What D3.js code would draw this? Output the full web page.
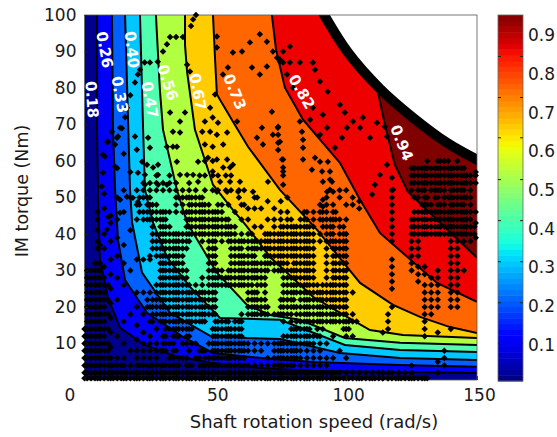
<!DOCTYPE html>
<html>
<head>
<meta charset="utf-8">
<script src="https://d3js.org/d3.v7.min.js"></script>
<style>
html,body{margin:0;padding:0;background:#fff}
text{font-family:"DejaVu Sans";fill:#1a1a1a}
</style>
</head>
<body>
<svg id="chart" width="557" height="437"></svg>
<script>
// band colours, lowest efficiency first
var bandColors = ["#00008f","#0000f5","#0060ff","#00c8ff","#50ffb0","#b0ff40","#ffcc00","#ff6600","#ee0000","#800000"];

// contour lines, one per band edge (speed in rad/s, torque in Nm)
var levelSpeeds = [
	[4.8,4.8,5.2,5.9,9,13.6,23.1,34.6,48,67.1,87.3,120.6,150],
	[10.5,10.9,11.7,12.8,15.5,23.9,37.6,49.1,70.9,87.3,120.6,150],
	[15.5,16.2,17.4,18.2,22,32.7,48,62.1,74.7,97.6,120.6,150],
	[21.2,22.4,23.1,26.2,31.5,40.3,51.8,74.7,99.5,120.6,150],
	[27.3,28.8,30,35.3,39.2,50.6,62.1,70.9,82.3,99.5,120.6,150],
	[38.4,38.4,39.2,42.2,49.1,56.7,62.1,70.9,87.3,100.3,109.1,121.7,150],
	[49.1,49.9,50.6,56.7,62.5,74.7,88.8,100.3,105.3,117.9,128.2,139.7,150],
	[71.6,73.2,76.6,83.5,97.6,105.3,112.9,134.7,150],
	[112.2,114.8,118.6,123.6,134.7,150]
];
var levelTorques = [
	[100,68.6,49.4,32.9,22.5,14.3,9.6,6.6,4.7,3.3,2.5,2.2,1.9],
	[100,68.6,52.1,38.4,27.4,18.4,11.8,7.4,5.8,4.9,4.1,3.6],
	[100,82.3,52.1,43.1,29.4,18.4,12.1,11.5,11.2,7.4,6,5.5],
	[100,68.6,52.1,43.1,33.7,25.5,17,16.5,9.6,8.2,7.7],
	[100,79.6,68.6,52.1,43.1,29.4,20.6,17.8,16.5,11.5,10.2,9.6],
	[100,91.9,84.5,68.6,53.5,46.6,42,33.7,22.8,17.3,13.7,12.3,11.5],
	[100,87.8,78.2,70.8,63.9,52.1,41.2,31,26.6,20.6,17.3,14.5,12.9],
	[100,90.5,80.1,71.3,59.5,49.4,40.3,26.6,21.4],
	[78.7,70,59,51.6,43.9,33.5]
];

// torque limit of the machine
var limitSpeed = [90,100.7,112.9,125.5,138.5,152];
var limitTorque = [102,89.7,79.8,71.9,65,59.6];

// contour labels
var labelText = ["0.18","0.26","0.33","0.40","0.47","0.56","0.67","0.73","0.82","0.94"];
var labelSpeed = [2.9,7.8,13.6,18.2,25,31.9,43.4,57.5,83.1,121.3];
var labelTorque = [76.8,90.5,78.2,90.5,76.8,81.5,79,79,79,65];
var labelAngle = [86,80,80,84,80,72,80,68,60,68];

// operating points grouped by speed column: [speed, torques]
var pointColumns = [
	[0,[.5,2,4,6,8,10,12,14]],
	[2.5,[.5,2,4,6,8,10,12,14,16,18,20,22,24,26,28,30]],
	[5,[.5,2,4,6,8,10,12,14,16,18,20,22,24,26,28,30,32,36,38,41,44,46]],
	[7.5,[.5,2,4,6,8,10,12,14,16,18,20,22,24,26,28,31,36,40,47,51]],
	[10,[.5,2,4,6,9,13,17,21,25,29,33,38,43,45]],
	[12.5,[.5,2,4,6,12,22,28,34,39,44,50,58]],
	[15,[.5,2,4,6,10,16,26,32,37,46,52,62]],
	[17.5,[.5,2,4,8,18,30,41,50,57]],
	[20,[.5,2,4,6,8,11,15,20,24,33,44,48,52]],
	[22.5,[.5,2,4,6,8,10,13,18,24,33,44,46,50,52,54]],
	[25,[.5,2,4,6,8,10,12,16,20,24,33,34,44,46,48,50,52,54]],
	[27.5,[.5,2,4,6,8,10,14,18,20,22,24,26,34,36,38,40,44,46,48,52,54,56]],
	[30,[.5,2,4,8,10,12,16,18,20,22,24,26,28,30,32,34,36,38,40,42,44,46,52,54]],
	[32.5,[.5,2,4,6,10,14,16,18,20,22,24,26,28,30,32,34,36,38,40,42,46,52,54,56]],
	[35,[.5,2,4,8,12,14,16,18,20,22,24,26,28,30,32,34,36,38,40,46,48,50,52,54]],
	[37.5,[.5,2,6,10,14,16,18,20,22,24,26,28,30,32,34,36,38,40,46,48,50,52]],
	[40,[.5,2,4,8,12,14,16,18,20,22,24,26,38,40,42,44,46,48,50,52,54]],
	[42.5,[.5,2,6,10,16,18,20,22,24,26,40,42,44,46,48,50,52]],
	[45,[.5,2,4,8,16,18,20,22,24,26,28,38,40,42,44,46,48,50]],
	[47.5,[.5,2,4,6,10,18,20,22,24,26,28,30,32,34,36,38,40,42,44,46,48]],
	[50,[.5,2,4,6,8,10,12,14,16,18,20,22,24,26,28,30,32,34,36,38,40,42,44,46]],
	[52.5,[.5,2,4,6,8,10,12,14,16,26,28,30,38,40,42,44,46,48]],
	[55,[.5,2,4,6,8,10,12,14,16,26,28,30,38,40,42,44,48]],
	[57.5,[.5,2,4,6,8,10,12,14,16,26,28,30,32,34,36,38,40,42,46]],
	[60,[.5,2,4,6,8,10,12,14,16,18,26,28,30,32,34,36,38,40,44,48]],
	[62.5,[.5,2,4,8,10,18,20,22,24,26,28,30,32,34,36,38,40,44,47]],
	[65,[.5,2,4,8,10,18,20,22,24,28,30,32,34,36,38,42,47,50]],
	[67.5,[.5,2,4,8,10,18,20,22,26,28,30,32,36,38,42,47]],
	[70,[.5,2,4,6,10,18,20,30,32,34,36,38,40,44,49]],
	[72.5,[.5,2,4,6,8,10,18,30,32,34,36,38,40,42,44,47]],
	[75,[.5,2,4,6,8,10,18,20,22,30,32,34,36,38,40,42,44,46,49]],
	[77.5,[.5,2,4,6,8,10,12,18,20,22,24,26,28,30,32,34,36,38,40,42,44,46,50]],
	[80,[.5,2,4,6,8,10,12,14,20,22,24,26,28,30,32,34,36,38,40,42]],
	[82.5,[.5,2,4,6,8,10,12,14,16,18,20,22,24,26,28,30,32,34,36,38,40,42,44]],
	[85,[.5,2,4,6,8,10,12,14,16,18,20,22,24,26,28,30,32,34,36,38,40,42,44,46]],
	[87.5,[.5,2,4,6,8,10,12,16,18,20,22,24,26,28,30,32,34,36,38,40,42,44,46]],
	[90,[.5,2,4,6,8,10,12,16,18,20,22,24,38,40,44,46,48]],
	[92.5,[.5,2,4,6,10,16,18,20,22,24,26,28,30,32,34,36,38,40,42,44,46,48,50]],
	[95,[.5,2,6,12,16,18,20,22,24,26,28,30,32,34,36,38,40,42,44,46,48]],
	[97.5,[.5,2,8,16,18,20,22,24,26,28,30,32,34,36,38,40,42,44,50,52]],
	[100,[.5,2,6,12,14,16,18,20,22,24,26,28,30,32,34,36,38,40,44,48,52]],
	[102.5,[.5,2,12,16,18,24,48,50]],
	[105,[.5,2,47,49]],
	[107.5,[.5,2]],
	[110,[.5,2]],
	[112.5,[.5,2]],
	[114,[.5,2,13]],
	[116,[.5,2,14,16,18]],
	[117.5,[.5,2,20,25,27,29,31,33,38,40,42,44,46,48,50,52]],
	[120,[.5,2]],
	[122.5,[.5,2]],
	[125,[.5,2,4,30,32,34,36,38,40,42,44,52,54,56,58]],
	[127.5,[.5,27,29,31,34,36,38,40,42,44,46,50,52,54,56,58]],
	[130,[.5,12,14,16,18,20,22,24,26,29,31,40,42,44,46,48,50,52,54,56,58]],
	[132.5,[18,20,22,24,26,28,40,42,44,46,48,52,54,56,58]],
	[135,[2,5,13,20,22,24,26,28,30,40,42,44,46,48,50,52,54,56,58,60]],
	[137.5,[4,6,8,40,42,44,46,48,50,52,54,56,58,60]],
	[140,[14,20,22,24,26,28,30,32,34,36,38,40,42,44,46,48,50,52,54,56,58]],
	[142.5,[20,22,24,26,28,30,32,34,36,38,40,42,44,46,48,50,52,54,56,58,60]],
	[145,[30,38,40,42,44,46,48,50,52,54,56,58]],
	[147.5,[38,40,42,44,46,48,50,52,54,56]],
	[149.5,[39,43,46,54,56,57]]
];

// the same points seen as rows, where they run into horizontal bars: [torque, speeds]
var pointRows = [
	[.5,[1,4,6,9,11,14,16,19,21,24,26,29,31,34,36,39,41,44,46,49,51,54,56,59,61,64,66,69,71,74,76,79,81,84,86,89,91,94,96,99,101,104,106,109,111,114,116,119,121,124,126,129,131]],
	[2,[1,4,6,9,11,14,16,19,21,24,26,29,31,34,36,39,41,44,46,49,51,54,56,59,61,64,66,69,71,74,76,79,81,84,86,89,91,94,96]],
	[4,[1,4,6,9,11,14,21,24,26,29,31,34,36,39,41,44,46,49,51,54,56,59,61,74,76,79]],
	[6,[1,4,6,9,34,36,39,44,46,49,51,54,56,59,61,74,76,79,81]],
	[8,[1,4,6,9,29,31,34,44,46,49,51,54,56,59,61,74,76,79,81]],
	[10,[1,4,6,9,31,34,39,41,49,51,54,56,59,61,74,76,79,81,84,86]],
	[12,[1,4,6,31,34,36,39,49,51,54,56,59,76,79,81,84,86,89]],
	[14,[1,4,6,9,31,34,36,39,41,49,51,54,56,59,79,81,84,86,89,91,99,101]],
	[16,[1,4,6,26,29,31,34,36,39,41,44,46,51,54,59,76,79,81,84,86,89,91,94,96,99,101,104]],
	[18,[1,4,6,9,26,29,31,34,36,39,41,44,46,49,64,66,69,74,76,79,81,84,86,89,91,94,96,99]],
	[20,[1,4,6,24,26,29,31,34,36,39,41,44,46,49,64,66,69,76,79,81,84,86,89,91,94,96,99]],
	[22,[1,4,6,9,24,26,29,31,34,36,39,41,44,46,49,64,66,69,76,79,84,86,89,91,94,96,99]],
	[24,[1,4,6,29,31,34,36,39,41,44,46,49,64,66,69,76,79,81,84,86,89,91,94,96,99]],
	[26,[1,4,6,9,29,31,34,36,39,49,51,54,56,59,61,64,66,69,76,79,81,84,86,89,91,94,96,99]],
	[28,[1,4,6,29,31,34,36,39,49,51,54,56,59,61,64,66,69,76,79,81,84,86,96,99]],
	[30,[1,4,6,29,31,34,36,39,49,51,56,59,61,64,66,69,74,76,79,81,84,86,96,99]],
	[32,[4,6,29,31,34,36,49,56,59,61,64,66,69,71,74,76,81,84,86,96,99]],
	[34,[29,31,34,36,49,56,59,61,64,69,71,74,76,79,81,84,86,96,99]],
	[36,[26,29,31,34,36,39,49,56,59,64,66,69,71,74,76,79,81,84,86,96,99]],
	[38,[26,29,31,34,36,39,49,56,59,61,64,66,69,71,74,76,79,81,84,86,94,96,99]],
	[40,[26,29,31,34,36,39,41,44,46,49,51,54,56,64,69,71,74,76,79,81,84,86,94,99,126,129,131,134,136,139,141,144,146,149]],
	[42,[26,29,31,39,41,44,46,49,51,54,56,76,79,81,84,86,94,99,126,129,131,134,136,139,141,144,146,149]],
	[44,[24,26,29,31,39,41,44,46,49,51,54,79,84,94,96,126,129,131,134,136,139,141,144,146]],
	[46,[21,24,26,29,31,39,41,44,46,49,51,84,91,96,126,129,131,134,136,139,141,144,146]],
	[48,[21,24,26,41,44,46,51,61,129,131,136,141,144]],
	[50,[21,24,36,39,41,44,59,66,126,131,134,139,141,144,146]],
	[52,[46,49,51,54,56,59,61,129,134,136,141,144]],
	[54,[126,129,131,134,136,139,141,144,146]],
	[56,[44,46,49,51,54,56,126,129,131,134,136,139,141,144,146]],
	[58,[126,129,131,134,136,139,141,144]],
	[60,[46,49,131,136,139]]
];

// the sparser runs of points above the dense block
var sparseSpeed = [11.7,12.8,14.3,15.5,16.2,17.5,19.3,20.4,21.2,23,25,28,30,31.5,32.7,35,37.6,40.7,41.5,42.6,
	39.2,40.3,50.6,50.6,49.9,
	67,63.2,60.2,56.7,54.8,52.9,64,69.7,67,74.7,69.7,72,74.7,
	78.5,75.9,73.6,75.9,78.5,82.3,87.3,88.1,90,93,97.6,99.5,102.6,106.4,111.8,114.8,115.6,109.1,105.3,100.3,98.4,95.7,77.4,79.7,87.3,91.1,86.2,90,92.7,
	71.6,73.9,74.7,75.5,75.9,82.3,83.1,83.5,88.1,90,93,86.9,90.8,93.8,91.1,94.6,92.7,95,
	115.6,112.9,111,117.5,117.9,109.9,
	8.6,10.5,7.1,13.6,12.4,24.3,25,22,23.9,26.2,28.1,23.1,28.1,23.1,28.1,31.5,
	32.7,33.8,36.5,38.4,36.5,31.5,33.8,35.3,35.3,36.5,39.2,41.5,43.4,43.4,
	48,49,46,51,45,48,50.6,54.5,46,49,53,47.2,50.6,54.5,56.7,49,53,55.6,51.8,55.6,59.4,50.6,54.5,58.7,64.4,70.1,
	58.3,67.8,65.9,68.2,72,74,74,74,74,75.9,75.9,75.9,75.9,83.5,83.5,91.1,91.1,91.1,91.1,93.8,93.8,
	9,7.8,7.1,6.6,9,8.6,5.9,11.7,13.6,13.6,19.3,20,20.4,16.2,18.5,20.4];
var sparseTorque = [64.5,66.7,69,72,74.6,78,81.5,83.7,85,87,87,87.2,90,92,94,94,94,97,98.8,100,
	86.4,84.5,94.1,91.1,78.2,
	94.7,92.5,90,89.7,85.6,83.7,85.6,85.9,83.7,87.2,92.7,90,87.8,
	91.4,90,88.3,87,87,87,87,85,81.8,79,75.4,73.3,70.8,71.9,70.5,69.4,66.7,66.4,69.1,69.1,66.4,63.6,83.7,80.1,74.6,72.7,71.3,67.2,69.1,
	73.5,69.1,65.3,60.4,57.1,70.8,68,63.6,60.9,59.8,59.8,57.6,57.1,57.1,54.3,54.3,51.6,51.6,
	59,56.2,53.5,55.4,52.1,50.8,
	65.3,68,61.7,69.1,66.4,66.4,63.6,59.8,59,58.2,59,56.2,56.2,53.5,53.5,53.5,
	73.3,68,67.8,73.3,70.8,63.9,63.9,63.9,59.8,56.2,56.2,56.2,54.3,59.8,
	74.6,71.9,70.8,70.5,68,68,67.2,67.8,64.5,63.9,64.5,60.9,60.4,60.4,59,57.1,58.2,58.2,54.3,54.3,54.3,51.6,51.6,51.6,51.6,54.3,
	70.8,69.1,66.4,64.5,67.2,69.4,67.2,65,63,60.4,58.2,56,53.5,65.8,60.4,49.4,47.5,43.9,42,52.1,54.9,
	65.3,61.2,56.8,53,44.7,41.2,37,58.4,49.4,45.8,66.7,63.1,56.8,50.2,49.9,48.8];

// axis ticks
var speedTicks = [0,50,100,150];
var torqueTicks = [10,20,30,40,50,60,70,80,90,100];
var colorbarLabels = [0.1,0.2,0.3,0.4,0.5,0.6,0.7,0.8,0.9];
var colorbarMarks = [0.103,0.209,0.315,0.421,0.527,0.635,0.739,0.845];

var x = d3.scaleLinear().domain([0,150]).range([84.5,477]);
var y = d3.scaleLinear().domain([0,100]).range([380,15]);

var svg = d3.select('#chart');

svg.append('clipPath').attr('id','plotclip').append('rect')
	.attr('x',84.5).attr('y',15).attr('width',392.5).attr('height',365);

var plot = svg.append('g').attr('clip-path','url(#plotclip)');

var line = d3.line()
	.x(function(d){ return x(d[0]) })
	.y(function(d){ return y(d[1]) });

function zipLevel(i){
	return levelSpeeds[i].map(function(s,j){ return [s, levelTorques[i][j]] });
}

// lowest band is the background, every next band painted over it
plot.append('rect')
	.attr('x',x(0)).attr('y',y(100))
	.attr('width',x(150)-x(0)).attr('height',y(0)-y(100))
	.style('fill',bandColors[0]);

plot.selectAll('.band')
	.data(levelSpeeds.map(function(s,i){ return i }))
	.enter()
	.append('path')
	.attr('class','band')
	.attr('d',function(i){
		return line(zipLevel(i).concat([[150,100]])) + 'Z'
	})
	.style('fill',function(i){ return bandColors[i+1] });

plot.selectAll('.level')
	.data(levelSpeeds.map(function(s,i){ return i }))
	.enter()
	.append('path')
	.attr('class','level')
	.attr('d',function(i){ return line(zipLevel(i)) })
	.style('fill','none')
	.style('stroke','#000')
	.style('stroke-width',2);

// above the limit nothing is defined
var limitPts = limitSpeed.map(function(s,j){ return [s, limitTorque[j]] });
var limitLine = d3.line()
	.x(function(d){ return x(d[0]) })
	.y(function(d){ return y(d[1]) })
	.curve(d3.curveCatmullRom);

plot.append('path')
	.attr('d',limitLine(limitPts) + 'L' + x(152) + ',' + y(102) + 'Z')
	.style('fill','#fff');
plot.append('path')
	.attr('d',limitLine(limitPts))
	.style('fill','none')
	.style('stroke','#000')
	.style('stroke-width',10);

// frame
svg.append('rect')
	.attr('x',84.5).attr('y',15).attr('width',392.5).attr('height',365)
	.style('fill','none')
	.style('stroke','#555')
	.style('stroke-width',0.8);

// points, not clipped, the markers stick out over the frame
var points = [];
pointColumns.forEach(function(c){
	c[1].forEach(function(t){ points.push([c[0],t]) })
});
pointRows.forEach(function(r){
	r[1].forEach(function(s){ points.push([s,r[0]]) })
});
sparseSpeed.forEach(function(s,i){ points.push([s,sparseTorque[i]]) });

var marker = d3.symbol().type(d3.symbolSquare).size(21);
svg.append('g').selectAll('path')
	.data(points)
	.enter()
	.append('path')
	.attr('d',marker)
	.attr('transform',function(d){
		return 'translate(' + x(d[0]) + ',' + y(d[1]) + ') rotate(45)'
	})
	.style('fill','#000');

// axes
var xAxis = d3.axisBottom(x).tickValues(speedTicks).tickSize(-4).tickPadding(8);
var gx = svg.append('g').attr('transform','translate(0,380)').call(xAxis);
gx.select('.domain').remove();
gx.selectAll('line').style('stroke','#222').style('stroke-width',0.8);
gx.selectAll('text')
	.attr('y',9)
	.attr('dx',function(d){ return d == 0 ? -15 : 2 })
	.style('font-size','17px');

var yAxis = d3.axisLeft(y).tickValues(torqueTicks).tickSize(-4).tickPadding(8);
var gy = svg.append('g').attr('transform','translate(84.5,0)').call(yAxis);
gy.select('.domain').remove();
gy.selectAll('line').style('stroke','#222').style('stroke-width',0.8);
gy.selectAll('text').style('font-size','17px');

svg.append('text')
	.attr('x',314).attr('y',428)
	.attr('text-anchor','middle')
	.style('font-size','18px')
	.text('Shaft rotation speed (rad/s)');

svg.append('text')
	.attr('transform','translate(28,191) rotate(-90)')
	.attr('text-anchor','middle')
	.style('font-size','17.5px')
	.text('IM torque (Nm)');

// contour labels go on top of everything
svg.append('g').selectAll('text')
	.data(labelText)
	.enter()
	.append('text')
	.attr('transform',function(d,i){
		return 'translate(' + x(labelSpeed[i]) + ',' + y(labelTorque[i]) + ') rotate(' + labelAngle[i] + ')'
	})
	.attr('text-anchor','middle')
	.attr('dy','0.36em')
	.style('font-size','15px')
	.style('font-weight','bold')
	.style('fill','#fff')
	.text(function(d){ return d });

// colorbar
var jetR = d3.scaleLinear().domain([0,.35,.66,.89,1]).range([0,0,255,255,128]);
var jetG = d3.scaleLinear().domain([0,.125,.375,.64,.91,1]).range([0,0,255,255,0,0]);
var jetB = d3.scaleLinear().domain([0,.11,.34,.65,1]).range([128,255,255,0,0]);
function jet(u){
	return 'rgb(' + Math.round(jetR(u)) + ',' + Math.round(jetG(u)) + ',' + Math.round(jetB(u)) + ')'
}

var cbLeft = 498, cbRight = 523;
var cbY = d3.scaleLinear().domain([0.007,0.952]).range([381,15]);
var cbSteps = d3.scaleBand().domain(d3.range(64)).range([381,15]);

svg.append('g').selectAll('rect')
	.data(d3.range(64))
	.enter()
	.append('rect')
	.attr('x',cbLeft).attr('width',cbRight-cbLeft)
	.attr('y',function(d){ return cbSteps(d) })
	.attr('height',cbSteps.bandwidth() + 0.5)
	.style('fill',function(d){ return jet((d + 0.5) / 64) });

svg.append('rect')
	.attr('x',cbLeft).attr('y',15).attr('width',cbRight-cbLeft).attr('height',366)
	.style('fill','none').style('stroke','#666').style('stroke-width',0.8);

var cbAxis = d3.axisRight(cbY).tickValues(colorbarLabels).tickSize(0).tickPadding(5)
	.tickFormat(d3.format('.1f'));
var gc = svg.append('g').attr('transform','translate(' + cbRight + ',0)').call(cbAxis);
gc.select('.domain').remove();
gc.selectAll('text').style('font-size','17px');

colorbarMarks.forEach(function(v){
	svg.append('line').attr('x1',cbLeft).attr('x2',cbLeft+3).attr('y1',cbY(v)).attr('y2',cbY(v)).style('stroke','#222');
	svg.append('line').attr('x1',cbRight-3).attr('x2',cbRight).attr('y1',cbY(v)).attr('y2',cbY(v)).style('stroke','#222');
});
</script>
</body>
</html>
